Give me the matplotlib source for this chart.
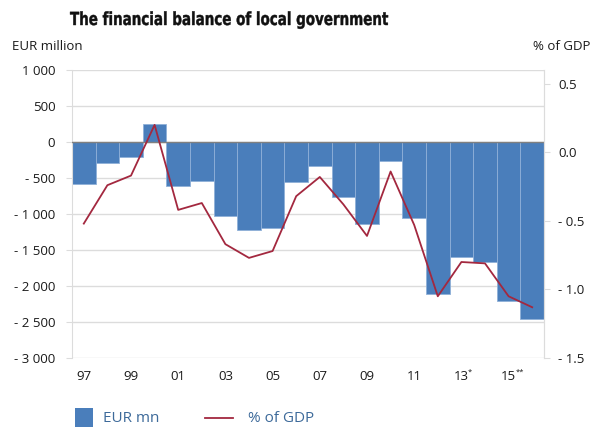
import matplotlib.pyplot as plt
from matplotlib.patches import Rectangle, PathPatch
from matplotlib.lines import Line2D
from matplotlib.textpath import TextPath
from matplotlib.font_manager import FontProperties
from matplotlib.transforms import Affine2D

years = ["97", "98", "99", "00", "01", "02", "03", "04", "05", "06",
         "07", "08", "09", "10", "11", "12", "13", "14", "15", "16"]
eur_mn = [-580, -290, -215, 255, -615, -546, -1032, -1226, -1190, -560,
          -335, -763, -1134, -268, -1055, -2115, -1597, -1666, -2208, -2463]
pct_gdp = [-0.52, -0.24, -0.17, 0.20, -0.42, -0.37, -0.67, -0.77, -0.72, -0.32,
           -0.18, -0.38, -0.61, -0.14, -0.53, -1.05, -0.80, -0.81, -1.05, -1.13]
tick_labels = ["97", "99", "01", "03", "05", "07", "09", "11", "13", "15"]
tick_marks = ["", "", "", "", "", "", "", "", "*", "**"]

left_ticks = [1000, 500, 0, -500, -1000, -1500, -2000, -2500, -3000]
right_ticks = [0.5, 0.0, -0.5, -1.0, -1.5]

blue = "#4a7ebb"
red = "#a3283f"
grid = "#dcdcdc"
txt = "#1a1a1a"

plt.rcParams["font.family"] = ["Open Sans", "DejaVu Sans"]


def fmt_left(v):
    s = f"{abs(v):,}".replace(",", " ")
    return ("- " + s) if v < 0 else s


def fmt_right(v):
    s = f"{abs(v):.1f}"
    return ("- " + s) if v < 0 else s


W, H = 597, 429
fig = plt.figure(figsize=(W / 100, H / 100), dpi=100)
ax = fig.add_axes([72 / W, 1 - 358 / H, 472 / W, 288 / H])

x = list(range(len(eur_mn)))
ax.bar(x, eur_mn, width=1.0, color=blue, edgecolor="#8fb0d8", linewidth=0.6, zorder=2)
ax.axhline(0, color="#808080", linewidth=1.0, zorder=3)
ax.set_xlim(-0.5, len(eur_mn) - 0.5)
ax.set_ylim(-3000, 1000)
ax.set_yticks(left_ticks)
ax.set_yticklabels([fmt_left(v) for v in left_ticks], fontsize=9.5, color=txt)
ax.yaxis.grid(True, color=grid, linewidth=1.0, zorder=0)
ax.set_axisbelow(True)
ax.tick_params(axis="y", length=4, color=grid, pad=8)

ax.set_xticks(x[::2])
ax.set_xticklabels(tick_labels, fontsize=9.5, color=txt)
ax.tick_params(axis="x", length=0, pad=9)

# small superscript stars next to forecast years
for pos, mark in zip(x[::2], tick_marks):
    if mark:
        ax.annotate(mark, xy=(pos, 0), xycoords=("data", "axes fraction"),
                    xytext=(4.8, -10.5), textcoords="offset points",
                    fontsize=5.5, color=txt, ha="left", va="center")

for side in ["top", "bottom"]:
    ax.spines[side].set_visible(False)
ax.spines["left"].set_color(grid)
ax.spines["right"].set_color(grid)

ax2 = ax.twinx()
ax2.plot(x, pct_gdp, color=red, linewidth=1.3, zorder=4)
ax2.set_ylim(-1.5, 0.6)
ax2.set_yticks(right_ticks)
ax2.set_yticklabels([fmt_right(v) for v in right_ticks], fontsize=9.5, color=txt)
ax2.tick_params(axis="y", length=4, color=grid, pad=6)
for side in ["top", "bottom", "left"]:
    ax2.spines[side].set_visible(False)
ax2.spines["right"].set_color(grid)

# condensed bold title, squeezed horizontally from a text path (pixel coords)
title_path = TextPath((0, 0), "The financial balance of local government", size=18,
                      prop=FontProperties(family="DejaVu Sans", weight="bold"))
bb = title_path.get_extents()
sx = (388 - 70) / bb.width
title_patch = PathPatch(title_path, facecolor="#111111", edgecolor="#111111",
                        linewidth=0.3)
title_patch.set_transform(Affine2D().scale(sx, 1.0).translate(70, H - 25)
                          + Affine2D().scale(1 / W, 1 / H) + fig.transFigure)
fig.patches.append(title_patch)

fig.text(12 / W, 1 - 47 / H, "EUR million", fontsize=9.5, color=txt,
         va="center", ha="left")
fig.text(590 / W, 1 - 47 / H, "% of GDP", fontsize=9.5, color=txt,
         va="center", ha="right")

# legend drawn by hand in figure pixels
legend_color = "#3d6a9a"
fig.patches.append(Rectangle((75 / W, 1 - 427 / H), 18 / W, 19 / H,
                             transform=fig.transFigure, facecolor=blue,
                             edgecolor="none"))
fig.text(103 / W, 1 - 418 / H, "EUR mn", fontsize=11, color=legend_color,
         va="center", ha="left")
fig.lines.append(Line2D([205 / W, 233 / W], [1 - 418 / H, 1 - 418 / H],
                        transform=fig.transFigure, color=red, linewidth=1.3))
fig.text(248 / W, 1 - 418 / H, "% of GDP", fontsize=11, color=legend_color,
         va="center", ha="left")

fig.savefig("out.png", dpi=100)
